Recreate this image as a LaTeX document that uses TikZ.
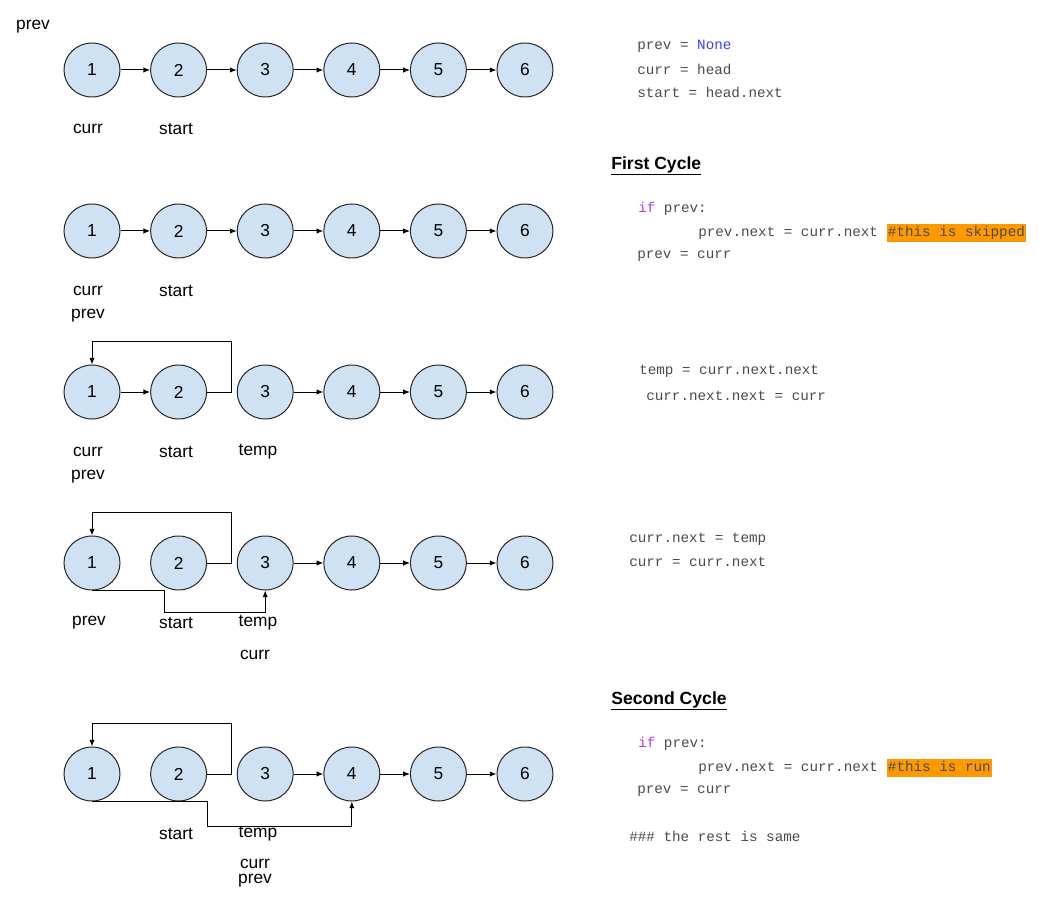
\documentclass[tikz,border=0pt]{standalone}
\usepackage{fontspec}
\setmainfont{Liberation Sans}
\newfontfamily\codefont{Liberation Mono}
\usepackage{tikz}
\usetikzlibrary{arrows.meta,positioning,shapes.geometric}
\definecolor{nodeblue}{HTML}{CFE2F3}
\definecolor{codegray}{HTML}{4A4A4A}
\definecolor{kwpurple}{HTML}{B23FD9}
\definecolor{noneblue}{HTML}{3D3DFF}
\definecolor{hlorange}{HTML}{FF9900}
\newcommand{\hlbox}[1]{{\setlength{\fboxsep}{1pt}\colorbox{hlorange}{\strut #1}}}

\begin{document}
\begin{tikzpicture}[
  x=0.75pt,y=-0.75pt,
  font=\fontsize{13}{15}\selectfont,
  ll/.style={ellipse,draw=black!85,fill=nodeblue,minimum width=42pt,minimum height=40.5pt,inner sep=0pt,line width=0.75pt},
  lbl/.style={inner sep=0pt},
  code/.style={anchor=west,inner sep=0pt,text=codegray,font=\codefont\fontsize{10.7}{12}\selectfont},
  hdr/.style={anchor=west,inner sep=0pt,font=\fontsize{13.2}{15}\selectfont\bfseries},
  arr/.style={-{Latex[length=5pt,width=4pt]},line width=0.75pt},
  node distance=22.2pt
]
\useasboundingbox (0,0) rectangle (1038,898);
% start
\node[ll] (a1) at (92,70) {1};
\node[ll,right=of a1] (a2) {2};
\node[ll,right=of a2] (a3) {3};
\node[ll,right=of a3] (a4) {4};
\node[ll,right=of a4] (a5) {5};
\node[ll,right=of a5] (a6) {6};
\draw[arr] (a1)--(a2);
\draw[arr] (a2)--(a3);
\draw[arr] (a3)--(a4);
\draw[arr] (a4)--(a5);
\draw[arr] (a5)--(a6);
\node[lbl] (pv0) at (33,27) {prev};
\node[lbl] (cu1) at (88,129) {curr};
\node[lbl] (st1) at (176,129) {start};
% first cycle, prev = curr
\node[ll] (b1) at (92,231) {1};
\node[ll,right=of b1] (b2) {2};
\node[ll,right=of b2] (b3) {3};
\node[ll,right=of b3] (b4) {4};
\node[ll,right=of b4] (b5) {5};
\node[ll,right=of b5] (b6) {6};
\draw[arr] (b1)--(b2);
\draw[arr] (b2)--(b3);
\draw[arr] (b3)--(b4);
\draw[arr] (b4)--(b5);
\draw[arr] (b5)--(b6);
\node[lbl] (cu2) at (88,291) {curr};
\node[lbl] (st2) at (176,291) {start};
\node[lbl] (pv2) at (88,316) {prev};
% swap
\node[ll] (c1) at (92,392) {1};
\node[ll,right=of c1] (c2) {2};
\node[ll,right=of c2] (c3) {3};
\node[ll,right=of c3] (c4) {4};
\node[ll,right=of c4] (c5) {5};
\node[ll,right=of c5] (c6) {6};
\draw[arr] (c1)--(c2);
\draw[arr] (c2.east) -| ++(24,-50) -| (c1.north);
\draw[arr] (c3)--(c4);
\draw[arr] (c4)--(c5);
\draw[arr] (c5)--(c6);
\node[lbl] (cu3) at (88,452) {curr};
\node[lbl] (st3) at (176,452) {start};
\node[lbl] (tp3) at (258,452) {temp};
\node[lbl] (pv3) at (88,477) {prev};
% relink
\node[ll] (d1) at (92,563) {1};
\node[ll,right=of d1] (d2) {2};
\node[ll,right=of d2] (d3) {3};
\node[ll,right=of d3] (d4) {4};
\node[ll,right=of d4] (d5) {5};
\node[ll,right=of d5] (d6) {6};
\draw[arr] (d2.east) -| ++(24,-51) -| (d1.north);
\draw[arr] (d1.south) -| ++(72,22) -| (d3.south);
\draw[arr] (d3)--(d4);
\draw[arr] (d4)--(d5);
\draw[arr] (d5)--(d6);
\node[lbl] (pv4) at (89,623) {prev};
\node[lbl] (st4) at (176,623) {start};
\node[lbl] (tp4) at (258,623) {temp};
\node[lbl] (cu4) at (255,655) {curr};
% second cycle
\node[ll] (e1) at (92,774) {1};
\node[ll,right=of e1] (e2) {2};
\node[ll,right=of e2] (e3) {3};
\node[ll,right=of e3] (e4) {4};
\node[ll,right=of e4] (e5) {5};
\node[ll,right=of e5] (e6) {6};
\draw[arr] (e2.east) -| ++(24,-51) -| (e1.north);
\draw[arr] (e1.south) -| ++(115,25) -| (e4.south);
\draw[arr] (e3)--(e4);
\draw[arr] (e4)--(e5);
\draw[arr] (e5)--(e6);
\node[lbl] (st5) at (176,834) {start};
\node[lbl] (tp5) at (258,834) {temp};
\node[lbl] (cu5) at (255,864) {curr};
\node[lbl] (pv5) at (255,881) {prev};
% code
\node[code] (ln1) at (637,46) {prev = \textcolor{noneblue}{None}};
\node[code] (ln2) at (637,69) {curr = head};
\node[code] (ln3) at (637,92) {start = head.next};
\node[hdr] (hd1) at (611,166) {\underline{First Cycle}};
\node[code] (ln4) at (638,209) {\textcolor{kwpurple}{if} prev:};
\node[code] (ln5) at (698,233) {prev.next = curr.next \hlbox{\#this is skipped}};
\node[code] (ln6) at (637,256) {prev = curr};
\node[code] (ln7) at (639,371) {temp = curr.next.next};
\node[code] (ln8) at (646,396) {curr.next.next = curr};
\node[code] (ln9) at (629,539) {curr.next = temp};
\node[code] (ln10) at (629,562) {curr = curr.next};
\node[hdr] (hd2) at (611,701) {\underline{Second Cycle}};
\node[code] (ln11) at (638,744) {\textcolor{kwpurple}{if} prev:};
\node[code] (ln12) at (698,768) {prev.next = curr.next \hlbox{\#this is run}};
\node[code] (ln13) at (637,791) {prev = curr};
\node[code] (ln14) at (629,836) {\#\#\# the rest is same};
\end{tikzpicture}
\end{document}
